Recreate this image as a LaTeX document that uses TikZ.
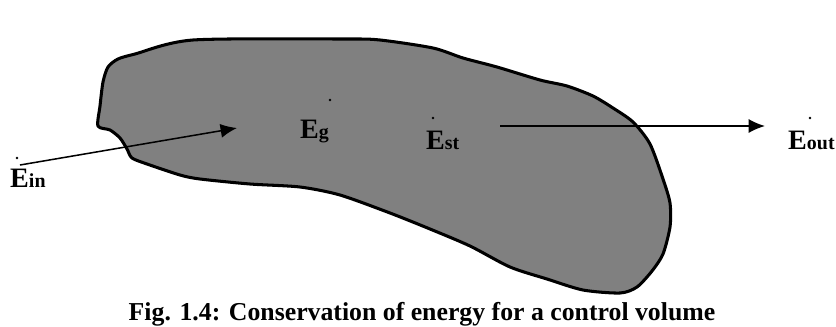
\documentclass[tikz,border=0pt]{standalone}
\usepackage{fontspec}
\setmainfont{Liberation Serif}
\usepackage{tikz}
\usetikzlibrary{positioning,arrows.meta}
\newcommand{\en}[1]{E{\fontsize{17}{17}\selectfont #1}}

\begin{document}
\begin{tikzpicture}[
  x=0.03cm, y=-0.03cm,
  font=\bfseries\fontsize{24}{24}\selectfont,
  blob/.style={draw, line width=2.6pt, fill=black!50, line join=round},
  lbl/.style={anchor=base west, inner sep=0pt},
  pt/.style={circle, fill=black, inner sep=0pt, minimum size=2.2pt},
  arr/.style={-{Latex[length=14pt, width=12pt]}, line width=1.3pt}]
\useasboundingbox (0,0) rectangle (836,326);
% control volume
\draw[blob] plot[smooth cycle, tension=0.45] coordinates {
  (98,126) (100,106) (103,82) (108,67) (118,59) (135,54) (193,40) (343,39)
  (380,40) (433,48) (463,58) (497,67) (540,80) (567,86) (593,96) (613,108)
  (633,122) (650,144) (663,179) (670,203) (670,227) (663,254) (652,271)
  (637,287) (620,293) (583,290) (547,279) (510,267) (470,246) (430,229)
  (390,213) (340,195) (300,187) (250,184) (200,179) (180,175) (147,164)
  (132,158) (127,149) (120,138) (110,130)};
% energy labels
\node[lbl] (Ein) at (10,187) {\en{in}};
\node[lbl] (Eg) at (300,138) {\en{g}};
\node[lbl] (Est) at (426,149) {\en{st}};
\node[lbl] (Eout) at (788,149) {\en{out}};
\node[pt] (dotin) at (17,158) {};
\node[pt] (dotg) at (330,100) {};
\node[pt] (dotst) at (433,118) {};
\node[pt] (dotout) at (810,118) {};
% flows
\coordinate (inTail) at (20,165);
\coordinate (inTip) at (237,128);
\coordinate (outTail) at (500,126);
\coordinate (outTip) at (765,126);
\draw[arr] (inTail) -- (inTip);
\draw[arr] (outTail) -- (outTip);
\node[anchor=base, inner sep=0pt, font=\bfseries\fontsize{22}{22}\selectfont] (cap) at (422,320)
  {Fig. 1.4: Conservation of energy for a control volume};
\end{tikzpicture}
\end{document}
